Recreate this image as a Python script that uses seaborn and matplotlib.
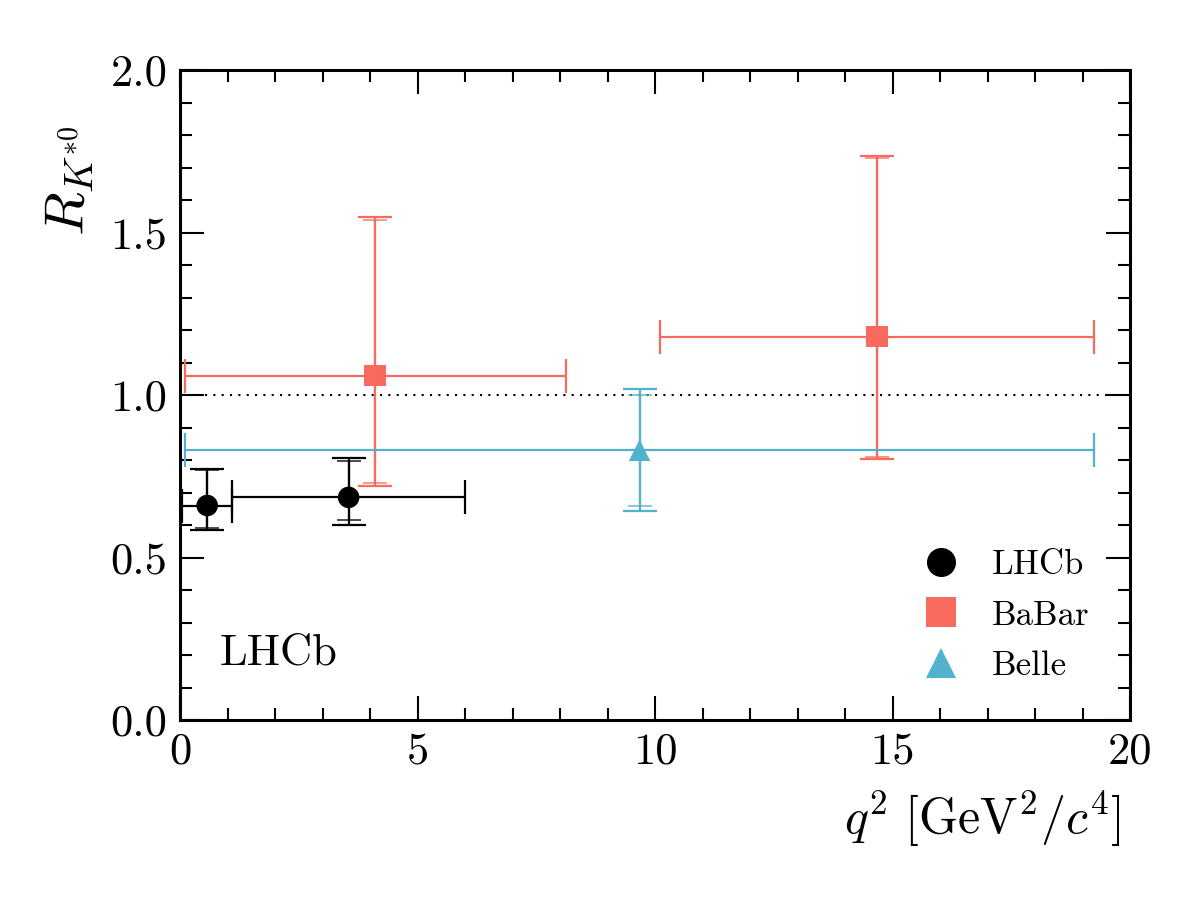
import numpy as np
import pandas as pd
import matplotlib
matplotlib.use("Agg")
import matplotlib.pyplot as plt
import seaborn as sns

# =============================================
# 1. DATA
# =============================================
experiments = ["LHCb", "LHCb", "BaBar", "BaBar", "Belle"]
q2_low = [0.045, 1.1, 0.10, 10.11, 0.10]
q2_high = [1.1, 6.0, 8.12, 19.24, 19.25]
r_kstar = [0.660, 0.685, 1.06, 1.18, 0.83]
stat_up = [0.110, 0.113, 0.48, 0.55, 0.17]
stat_down = [0.070, 0.069, 0.33, 0.37, 0.17]
syst = [0.024, 0.047, 0.08, 0.07, 0.08]

exp_order = ["LHCb", "BaBar", "Belle"]
exp_colors = {"LHCb": "black", "BaBar": "#F96A5E", "Belle": "#52B2CD"}
exp_markers = {"LHCb": "o", "BaBar": "s", "Belle": "^"}

# =============================================
# 2. STYLE
# =============================================
sns.set_theme(style="ticks")
plt.rcParams["font.family"] = ["serif"]
plt.rcParams["font.serif"] = ["cmr10", "DejaVu Serif"]
plt.rcParams["mathtext.fontset"] = "cm"
plt.rcParams["axes.formatter.use_mathtext"] = True
plt.rcParams["axes.unicode_minus"] = False
for key in ["text.color", "axes.labelcolor", "xtick.color", "ytick.color",
            "axes.edgecolor"]:
    plt.rcParams[key] = "black"

df = pd.DataFrame({
    "exp": experiments,
    "q2_low": q2_low,
    "q2_high": q2_high,
    "R": r_kstar,
    "stat_up": stat_up,
    "stat_down": stat_down,
    "syst": syst,
})
df["q2"] = 0.5 * (df["q2_low"] + df["q2_high"])
df["q2_err"] = 0.5 * (df["q2_high"] - df["q2_low"])
df["tot_up"] = np.sqrt(df["stat_up"] ** 2 + df["syst"] ** 2)
df["tot_down"] = np.sqrt(df["stat_down"] ** 2 + df["syst"] ** 2)

fig = plt.figure(figsize=(12, 9), dpi=100)
ax = fig.add_axes([0.15, 0.2, 0.7917, 0.7222])

# reference line at 1
ax.axhline(1.0, color="black", lw=1.5, ls=(0, (1, 3)), zorder=1)

# =============================================
# 3. ERROR BARS (total + stat)
# =============================================
for exp in exp_order:
    sub = df[df["exp"] == exp]
    col = exp_colors[exp]
    ax.errorbar(sub["q2"], sub["R"], xerr=sub["q2_err"],
                yerr=[sub["tot_down"], sub["tot_up"]],
                fmt="none", ecolor=col, elinewidth=1.6, capsize=12,
                capthick=1.6, zorder=2)
    ax.errorbar(sub["q2"], sub["R"],
                yerr=[sub["stat_down"], sub["stat_up"]],
                fmt="none", ecolor=col, elinewidth=1.6, capsize=8.5,
                capthick=1.4, alpha=0.7, zorder=2)

# markers through seaborn
sns.scatterplot(data=df, x="q2", y="R", hue="exp", style="exp",
                hue_order=exp_order, style_order=exp_order,
                palette=exp_colors, markers=exp_markers, s=240,
                linewidth=0, ax=ax, zorder=5)

# =============================================
# 4. AXES
# =============================================
ax.set_xlim(0, 20)
ax.set_ylim(0, 2.0)
ax.set_xticks([0, 5, 10, 15, 20])
ax.set_yticks([0.0, 0.5, 1.0, 1.5, 2.0])
ax.set_xticks(np.arange(0, 20.01, 1), minor=True)
ax.set_yticks(np.arange(0, 2.001, 0.1), minor=True)
ax.set_xticklabels(["0", "5", "10", "15", "20"])
ax.set_yticklabels(["0.0", "0.5", "1.0", "1.5", "2.0"])
ax.tick_params(which="both", direction="in", top=True, right=True,
               colors="black", labelsize=32)
ax.tick_params(which="major", length=17, width=1.5, pad=9)
ax.tick_params(which="minor", length=8.5, width=1.5)
for sp in ax.spines.values():
    sp.set_linewidth(2.2)
    sp.set_color("black")

ax.set_xlabel(r"$q^2\ [\mathrm{GeV}^2/c^4]$", fontsize=36, ha="right")
ax.xaxis.set_label_coords(0.99, -0.105)
ax.set_ylabel(r"$R_{K^{*0}}$", fontsize=41)
ax.yaxis.set_label_coords(-0.088, 0.83)

ax.text(0.042, 0.085, "LHCb", transform=ax.transAxes, fontsize=32,
        ha="left", va="baseline", color="black")

sns.move_legend(ax, "lower right", bbox_to_anchor=(0.99, 0.01),
                frameon=False, title=None, fontsize=25, markerscale=1.35,
                handletextpad=0.45, labelspacing=0.55)

fig.savefig("out.png", dpi=100)
